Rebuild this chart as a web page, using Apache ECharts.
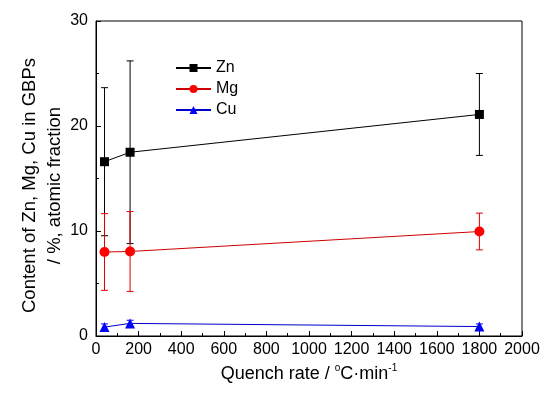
<!DOCTYPE html>
<html>
<head>
<meta charset="utf-8">
<script src="https://cdn.jsdelivr.net/npm/echarts@6/dist/echarts.min.js"></script>
<style>
  html, body { margin: 0; padding: 0; background: #fff; }
  #chart { width: 548px; height: 396px; }
</style>
</head>
<body>
<div id="chart"></div>
<script>
// quench rate, °C/min
var rates = [40, 160, 1800];

// content values (atomic %) and error half-widths
var znVals = [16.6, 17.5, 21.1];
var znErr = [7.05, 8.7, 3.9];
var mgVals = [8.0, 8.05, 9.95];
var mgErr = [3.65, 3.8, 1.75];
var cuVals = [0.85, 1.2, 0.9];
var cuErr = [0.3, 0.3, 0.25];

var xTicks = [0, 200, 400, 600, 800, 1000, 1200, 1400, 1600, 1800, 2000];
var yTicks = [0, 10, 20, 30];

var font = 'Liberation Sans, Arial, sans-serif';

function pts(vals) {
  return rates.map(function (r, i) { return [r, vals[i]]; });
}

function errData(vals, errs) {
  return rates.map(function (r, i) { return [r, vals[i] - errs[i], vals[i] + errs[i]]; });
}

function errSeries(vals, errs, color) {
  return {
    type: 'custom',
    data: errData(vals, errs),
    z: 1,
    silent: true,
    renderItem: function (params, api) {
      var lo = api.coord([api.value(0), api.value(1)]);
      var hi = api.coord([api.value(0), api.value(2)]);
      var w = 3.5;
      var st = { stroke: color, lineWidth: 1 };
      return {
        type: 'group',
        children: [
          { type: 'line', shape: { x1: hi[0], y1: hi[1], x2: lo[0], y2: lo[1] }, style: st },
          { type: 'line', shape: { x1: hi[0] - w, y1: hi[1], x2: hi[0] + w, y2: hi[1] }, style: st },
          { type: 'line', shape: { x1: lo[0] - w, y1: lo[1], x2: lo[0] + w, y2: lo[1] }, style: st }
        ]
      };
    }
  };
}

var chart = echarts.init(document.getElementById('chart'), null, { renderer: 'canvas' });

var option = {
  animation: false,
  backgroundColor: '#fff',
  textStyle: { fontFamily: font },
  grid: {
    left: 96, right: 26, top: 21, bottom: 60,
    show: true, borderColor: '#000', borderWidth: 1, backgroundColor: 'transparent'
  },
  legend: {
    left: 170, top: 55,
    orient: 'vertical',
    itemGap: 5,
    itemWidth: 35, itemHeight: 10,
    textStyle: { fontFamily: font, fontSize: 16, color: '#000' },
    data: ['Zn', 'Mg', 'Cu']
  },
  xAxis: {
    type: 'value',
    min: 0, max: 2000, interval: 200,
    name: '{n|Quench rate / }{s|o}{n|C·min}{s|-1}',
    nameLocation: 'middle',
    nameGap: 27,
    nameTextStyle: {
      rich: {
        n: { fontFamily: font, fontSize: 18, color: '#000', lineHeight: 22 },
        s: { fontFamily: font, fontSize: 10, color: '#000', verticalAlign: 'top', lineHeight: 22 }
      }
    },
    axisLine: { lineStyle: { color: '#000', width: 1 } },
    axisTick: { inside: true, length: 5, lineStyle: { color: '#000' } },
    minorTick: { show: true, splitNumber: 2, length: 3, lineStyle: { color: '#000' } },
    axisLabel: {
      fontFamily: font, fontSize: 16, color: '#000', margin: 6,
      formatter: function (v) { return String(v); }
    },
    splitLine: { show: false }
  },
  yAxis: {
    type: 'value',
    min: 0, max: 30, interval: 10,
    name: 'Content of Zn, Mg, Cu in GBPs\n/ %, atomic fraction',
    nameLocation: 'middle',
    nameRotate: 90,
    nameGap: 29,
    nameMoveOverlap: false,
    nameTextStyle: {
      fontFamily: font, fontSize: 18.5, color: '#000', lineHeight: 25,
      padding: [0, 14, 0, 0]
    },
    axisLine: { lineStyle: { color: '#000', width: 1 } },
    axisTick: { inside: true, length: 5, lineStyle: { color: '#000' } },
    minorTick: { show: true, splitNumber: 2, length: 3, lineStyle: { color: '#000' } },
    axisLabel: { fontFamily: font, fontSize: 16, color: '#000', margin: 8 },
    splitLine: { show: false }
  },
  series: [
    errSeries(znVals, znErr, '#000'),
    errSeries(mgVals, mgErr, '#e00000'),
    errSeries(cuVals, cuErr, '#0000ff'),
    {
      name: 'Zn', type: 'line', data: pts(znVals), z: 3,
      symbol: 'rect', symbolSize: 9,
      itemStyle: { color: '#000' }, lineStyle: { color: '#000', width: 1 }
    },
    {
      name: 'Mg', type: 'line', data: pts(mgVals), z: 3,
      symbol: 'circle', symbolSize: 10,
      itemStyle: { color: '#ff0000' }, lineStyle: { color: '#cc0000', width: 1 }
    },
    {
      name: 'Cu', type: 'line', data: pts(cuVals), z: 3,
      symbol: 'triangle', symbolSize: 10,
      itemStyle: { color: '#0000ff' }, lineStyle: { color: '#0000cc', width: 1 }
    }
  ]
};

chart.setOption(option);
</script>
</body>
</html>
